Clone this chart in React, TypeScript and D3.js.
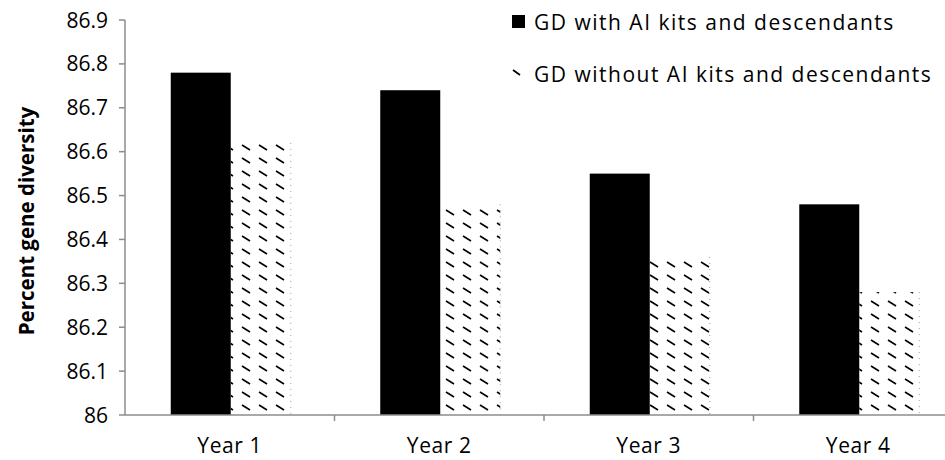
import React from "react";
import * as d3 from "d3";

const categories = ["Year 1", "Year 2", "Year 3", "Year 4"];
const seriesNames = ["GD with AI kits and descendants", "GD without AI kits and descendants"];
const withAI = [86.78, 86.74, 86.55, 86.48];
const withoutAI = [86.62, 86.48, 86.36, 86.28];
const yTicks = [86, 86.1, 86.2, 86.3, 86.4, 86.5, 86.6, 86.7, 86.8, 86.9];

const W = 945;
const H = 460;
const FONT = "'Open Sans', 'Noto Sans', sans-serif";

export default function App() {
  const left = 125;
  const catW = 209.5;
  const x0 = d3
    .scaleBand<string>()
    .domain(categories)
    .range([left, left + catW * categories.length])
    .padding(0);
  const x1 = d3.scaleBand<string>().domain(seriesNames).range([0, 120]).padding(0);
  const y = d3.scaleLinear().domain([86, 86.9]).range([415, 20]);
  const offset = (x0.bandwidth() - 120) / 2 + 1;
  const axisColor = "#8c8c8c";

  return (
    <svg
      width={W}
      height={H}
      style={{ position: "absolute", left: 0, top: 0, background: "#fff" }}
      fontFamily={FONT}
    >
      <defs>
        <pattern id="dash" patternUnits="userSpaceOnUse" width={17} height={13} x={241} y={0}>
          <line x1={1} y1={2} x2={9} y2={7} stroke="#000" strokeWidth={1.6} />
        </pattern>
      </defs>
      <rect width={W} height={H} fill="#fff" />

      {/* bars */}
      {categories.map((c, i) => {
        const gx = (x0(c) as number) + offset;
        const bx1 = gx + (x1(seriesNames[0]) as number);
        const bx2 = gx + (x1(seriesNames[1]) as number);
        const bw = x1.bandwidth();
        return (
          <g key={c}>
            <rect x={bx1} y={y(withAI[i])} width={bw} height={y(86) - y(withAI[i])} fill="#000" />
            <rect
              x={bx2}
              y={y(withoutAI[i])}
              width={bw}
              height={y(86) - y(withoutAI[i])}
              fill="url(#dash)"
            />
            <line
              x1={bx2 + bw}
              x2={bx2 + bw}
              y1={y(withoutAI[i])}
              y2={y(86)}
              stroke="#999"
              strokeWidth={1}
              strokeDasharray="1,5"
            />
          </g>
        );
      })}

      {/* y axis */}
      <line x1={left} x2={left} y1={y(86.9)} y2={y(86)} stroke={axisColor} strokeWidth={1.5} />
      {yTicks.map((t) => (
        <g key={t}>
          <line x1={left - 6} x2={left} y1={y(t)} y2={y(t)} stroke={axisColor} strokeWidth={1.5} />
          <text
            x={108}
            y={y(t)}
            dy="0.36em"
            textAnchor="end"
            fontSize={21}
            fill="#000"
          >
            {d3.format("")(+t.toFixed(1))}
          </text>
        </g>
      ))}

      {/* x axis */}
      <line x1={left} x2={W} y1={y(86)} y2={y(86)} stroke={axisColor} strokeWidth={1.5} />
      {categories.map((c) => (
        <line
          key={"t" + c}
          x1={(x0(c) as number) + x0.bandwidth()}
          x2={(x0(c) as number) + x0.bandwidth()}
          y1={y(86)}
          y2={y(86) + 6}
          stroke={axisColor}
          strokeWidth={1.5}
        />
      ))}
      {categories.map((c) => (
        <text
          key={"l" + c}
          x={(x0(c) as number) + x0.bandwidth() / 2}
          y={453}
          textAnchor="middle"
          fontSize={21}
          letterSpacing={0.6}
          fill="#000"
        >
          {c}
        </text>
      ))}

      {/* y title */}
      <text
        transform={`translate(34,221) rotate(-90)`}
        textAnchor="middle"
        fontSize={20.5}
        fontWeight="bold"
        fill="#000"
      >
        Percent gene diversity
      </text>

      {/* legend */}
      <rect x={512} y={15} width={13} height={13} fill="#000" />
      <text x={534} y={30} fontSize={21} letterSpacing={1.5} fill="#000">
        {seriesNames[0]}
      </text>
      <line x1={513} y1={70} x2={520} y2={75} stroke="#000" strokeWidth={1.8} />
      <text x={534} y={82} fontSize={21} letterSpacing={1.5} fill="#000">
        {seriesNames[1]}
      </text>
    </svg>
  );
}
